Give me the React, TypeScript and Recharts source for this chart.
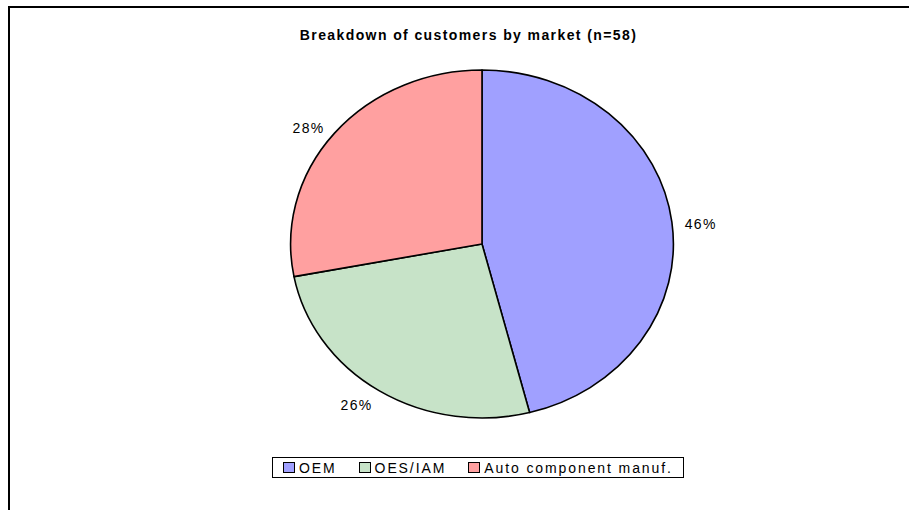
import React from 'react';
import { PieChart, Pie, Cell, Legend } from 'recharts';

const categories = ['OEM', 'OES/IAM', 'Auto component manuf.'];
const shares = [46, 26, 28];
const colors = ['#A0A0FF', '#C7E3C8', '#FFA0A0'];
const chartTitle = 'Breakdown of customers by market (n=58)';

const data = categories.map((name, i) => ({ name, value: shares[i] }));

const FONT = '"Liberation Sans", Arial, sans-serif';
const X_STRETCH = 1.1;
const RAD = Math.PI / 180;

function EllipseSector(props: any) {
  const { cx, cy, outerRadius, startAngle, endAngle, fill } = props;
  const ry = outerRadius;
  const rx = outerRadius * X_STRETCH;
  const x0 = cx + rx * Math.cos(-startAngle * RAD);
  const y0 = cy + ry * Math.sin(-startAngle * RAD);
  const x1 = cx + rx * Math.cos(-endAngle * RAD);
  const y1 = cy + ry * Math.sin(-endAngle * RAD);
  const delta = Math.abs(endAngle - startAngle);
  const large = delta > 180 ? 1 : 0;
  const sweep = startAngle > endAngle ? 1 : 0;
  const d = `M ${cx} ${cy} L ${x0} ${y0} A ${rx} ${ry} 0 ${large} ${sweep} ${x1} ${y1} Z`;
  return <path d={d} fill={fill} stroke="#000" strokeWidth={1.6} strokeLinejoin="round" />;
}

const renderLabel = (p: any) => {
  const { cx, cy, midAngle, outerRadius, value } = p;
  const off = 13;
  const c = Math.cos(-midAngle * RAD);
  const s = Math.sin(-midAngle * RAD);
  const x = cx + (outerRadius * X_STRETCH + off) * c;
  const y = cy + (outerRadius + off) * s + 3;
  return (
    <text
      x={x}
      y={y}
      textAnchor={c >= 0 ? 'start' : 'end'}
      dominantBaseline="central"
      fontFamily={FONT}
      fontSize={14}
      letterSpacing={1.3}
      fill="#000"
    >
      {`${value}%`}
    </text>
  );
};

const renderLegend = () => {
  return (
    <div
      style={{
        border: '1.5px solid #000',
        height: 21,
        boxSizing: 'border-box',
        display: 'flex',
        alignItems: 'center',
        paddingLeft: 10,
        fontFamily: FONT,
        fontSize: 14,
        letterSpacing: 1.9,
        color: '#000',
        whiteSpace: 'nowrap',
      }}
    >
      {categories.map((name, i) => (
        <div key={name} style={{ display: 'flex', alignItems: 'center', marginRight: 22 }}>
          <span
            style={{
              display: 'inline-block',
              width: 12,
              height: 11,
              boxSizing: 'border-box',
              border: '1.5px solid #000',
              background: colors[i],
              marginRight: 4,
            }}
          />
          <span>{name}</span>
        </div>
      ))}
    </div>
  );
};

export default function App() {
  return (
    <div
      style={{
        position: 'absolute',
        left: 8,
        top: 6,
        width: 901,
        height: 504,
        borderLeft: '2px solid #000',
        borderTop: '2px solid #000',
        boxSizing: 'border-box',
        overflow: 'hidden',
        background: '#fff',
      }}
    >
      <div
        style={{
          position: 'absolute',
          left: 38,
          top: 19,
          width: 841,
          textAlign: 'center',
          fontFamily: FONT,
          fontWeight: 'bold',
          fontSize: 14,
          lineHeight: '16px',
          letterSpacing: 1.4,
          color: '#000',
          whiteSpace: 'nowrap',
        }}
      >
        {chartTitle}
      </div>
      <PieChart width={899} height={502}>
        <Pie
          data={data}
          dataKey="value"
          nameKey="name"
          cx={467}
          cy={231}
          outerRadius={174}
          startAngle={90}
          endAngle={-270}
          stroke="#000"
          strokeWidth={1.6}
          shape={EllipseSector}
          label={renderLabel}
          labelLine={false}
          isAnimationActive={false}
        >
          {data.map((d, i) => (
            <Cell key={d.name} fill={colors[i]} />
          ))}
        </Pie>
        <Legend
          content={renderLegend}
          wrapperStyle={{ position: 'absolute', left: 262, top: 449, width: 412, height: 21 }}
        />
      </PieChart>
    </div>
  );
}
